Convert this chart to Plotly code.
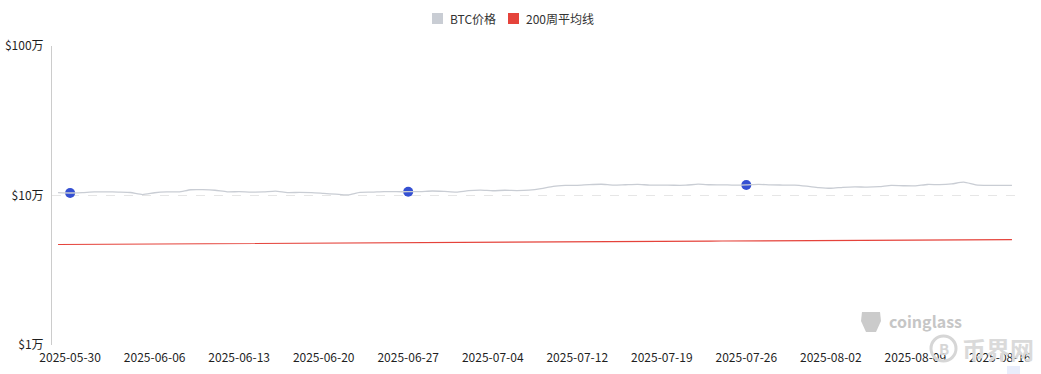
import plotly.graph_objects as go

dates = [
    "2025-05-29", "2025-05-30", "2025-05-31", "2025-06-01", "2025-06-02", "2025-06-03", "2025-06-04",
    "2025-06-05", "2025-06-06", "2025-06-07", "2025-06-08", "2025-06-09", "2025-06-10", "2025-06-11",
    "2025-06-12", "2025-06-13", "2025-06-14", "2025-06-15", "2025-06-16", "2025-06-17", "2025-06-18",
    "2025-06-19", "2025-06-20", "2025-06-21", "2025-06-22", "2025-06-23", "2025-06-24", "2025-06-25",
    "2025-06-26", "2025-06-27", "2025-06-28", "2025-06-29", "2025-06-30", "2025-07-01", "2025-07-02",
    "2025-07-03", "2025-07-04", "2025-07-06", "2025-07-07", "2025-07-08", "2025-07-09", "2025-07-10",
    "2025-07-11", "2025-07-12", "2025-07-13", "2025-07-14", "2025-07-15", "2025-07-16", "2025-07-17",
    "2025-07-18", "2025-07-19", "2025-07-20", "2025-07-21", "2025-07-22", "2025-07-23", "2025-07-24",
    "2025-07-25", "2025-07-26", "2025-07-27", "2025-07-28", "2025-07-29", "2025-07-30", "2025-07-31",
    "2025-08-01", "2025-08-02", "2025-08-03", "2025-08-04", "2025-08-05", "2025-08-06", "2025-08-07",
    "2025-08-08", "2025-08-09", "2025-08-10", "2025-08-11", "2025-08-12", "2025-08-13", "2025-08-14",
    "2025-08-15", "2025-08-16", "2025-08-17",
]

btc_price = [
    104500, 103900, 104600, 105700, 105800, 105400, 104700,
    101500, 104300, 105600, 105800, 109300, 109400, 108400,
    105900, 106100, 105400, 105600, 107000, 104600, 104900,
    104600, 103300, 102100, 100900, 105000, 105400, 106300,
    106000, 106000, 106300, 107200, 106400, 105300, 107800,
    108500, 107600, 108400, 107900, 108500, 111000, 115200,
    116800, 117000, 118300, 118900, 117300, 118000, 118600,
    117500, 117500, 117100, 117200, 119000, 118000, 117900,
    117300, 117600, 118700, 117700, 117500, 117300, 115400,
    113000, 111800, 113500, 114300, 113700, 114500, 116900,
    116200, 116100, 118500, 118200, 119500, 122800, 117900,
    116800, 116900, 116900,
]

ma_200w = [
    47000, 47040, 47090, 47140, 47190, 47230, 47280, 47330, 47380, 47420,
    47470, 47520, 47570, 47610, 47660, 47710, 47760, 47800, 47850, 47900,
    47950, 47990, 48040, 48090, 48140, 48180, 48230, 48280, 48330, 48370,
    48420, 48470, 48520, 48560, 48610, 48660, 48710, 48750, 48800, 48850,
    48900, 48940, 48990, 49040, 49090, 49130, 49180, 49230, 49280, 49320,
    49370, 49420, 49470, 49510, 49560, 49610, 49660, 49700, 49750, 49800,
    49850, 49890, 49940, 49990, 50040, 50080, 50130, 50180, 50230, 50270,
    50320, 50370, 50420, 50460, 50510, 50560, 50610, 50650, 50700, 50750,
]

marker_dates = ["2025-05-30", "2025-06-27", "2025-07-26"]
marker_prices = [btc_price[dates.index(d)] for d in marker_dates]

tick_dates = ["2025-05-30", "2025-06-06", "2025-06-13", "2025-06-20", "2025-06-27", "2025-07-04",
              "2025-07-12", "2025-07-19", "2025-07-26", "2025-08-02", "2025-08-09", "2025-08-16"]
y_tickvals = [10000, 100000, 1000000]
y_ticktext = ["$1万", "$10万", "$100万"]
legend_names = ["BTC价格", "200周平均线"]

FONT = "Noto Sans CJK SC, Noto Sans, sans-serif"
GRAY = "#c9cdd4"
RED = "#e5433b"
BLUE = "#3550d2"
TXT = "#1f1f1f"

# plot-area geometry in pixels (for legend / watermark placement)
W, H = 1041, 374
L, R, T, B = 52, 23, 46, 29
PW, PH = W - L - R, H - T - B


def px(x):
    return (x - L) / PW


def py(y):
    return (H - B - y) / PH


fig = go.Figure()

fig.add_trace(go.Scatter(
    x=marker_dates, y=marker_prices, mode="markers",
    marker=dict(color=BLUE, size=10), showlegend=False, hoverinfo="skip"))

fig.add_trace(go.Scatter(
    x=dates, y=btc_price, mode="lines",
    line=dict(color=GRAY, width=1.3, shape="spline", smoothing=0.6),
    showlegend=False, name=legend_names[0]))

fig.add_trace(go.Scatter(
    x=dates, y=ma_200w, mode="lines", line=dict(color=RED, width=1.2),
    showlegend=False, name=legend_names[1]))

fig.update_layout(
    width=W, height=H,
    margin=dict(l=L, r=R, t=T, b=B, autoexpand=False),
    paper_bgcolor="white", plot_bgcolor="white",
    font=dict(family=FONT, size=12, color=TXT),
    showlegend=False,
    xaxis=dict(type="category", categoryorder="array", categoryarray=dates,
               range=[-0.5, len(dates) - 0.5], tickmode="array", tickvals=tick_dates,
               ticktext=tick_dates, showgrid=False, showline=False, zeroline=False,
               ticks="", automargin=False, ticklabelstandoff=4,
               tickfont=dict(size=12, color=TXT)),
    yaxis=dict(type="log", range=[4, 6], tickmode="array", tickvals=y_tickvals,
               ticktext=y_ticktext, showgrid=True, gridcolor="#e6e6e6", griddash="dash",
               gridwidth=1, showline=True, linecolor="#cccccc", linewidth=1, zeroline=False,
               ticks="", automargin=False, ticklabelstandoff=5,
               tickfont=dict(size=12, color=TXT)),
)

# manual legend (square icons)
legend_items = [(432, GRAY, legend_names[0]), (508, RED, legend_names[1])]
for x0, col, name in legend_items:
    fig.add_shape(type="rect", xref="paper", yref="paper",
                  x0=px(x0), x1=px(x0 + 11), y0=py(24), y1=py(13),
                  fillcolor=col, line=dict(width=0), layer="above")
    fig.add_annotation(xref="paper", yref="paper", x=px(x0 + 16), y=py(18.5),
                       xanchor="left", yanchor="middle", text=name, showarrow=False,
                       font=dict(size=12, color="#333333", family=FONT))

# watermarks
fig.add_annotation(xref="paper", yref="paper", x=px(887), y=py(321), xanchor="left",
                   yanchor="middle", text="<b>coinglass</b>", showarrow=False,
                   font=dict(size=16, color="#c6c6c6", family=FONT))
fig.add_shape(type="path", xref="paper", yref="paper",
              path=(f"M {px(862)},{py(312)} L {px(880)},{py(312)} L {px(881)},{py(321)} "
                    f"L {px(876)},{py(332)} L {px(866)},{py(332)} L {px(861)},{py(321)} Z"),
              fillcolor="#cbcbcb", line=dict(width=0), layer="above")
fig.add_shape(type="circle", xref="paper", yref="paper",
              x0=px(931), x1=px(956), y0=py(361), y1=py(336),
              fillcolor="rgba(0,0,0,0)", line=dict(color="#d6d6d6", width=3), layer="above")
fig.add_annotation(xref="paper", yref="paper", x=px(943.5), y=py(348.5), xanchor="center",
                   yanchor="middle", text="<b>B</b>", showarrow=False,
                   font=dict(size=15, color="#d6d6d6", family=FONT))
fig.add_annotation(xref="paper", yref="paper", x=px(960), y=py(348), xanchor="left",
                   yanchor="middle", text="<b>币界网</b>", showarrow=False,
                   font=dict(size=24, color="#dadada", family=FONT))
fig.add_shape(type="rect", xref="paper", yref="paper",
              x0=px(1007), x1=px(1020), y0=py(374), y1=py(366),
              fillcolor="#e9edfb", line=dict(width=0), layer="above")

fig.write_html("out.html", config={"displayModeBar": False},
               post_script="document.body.style.margin='0';document.body.style.padding='0';")
